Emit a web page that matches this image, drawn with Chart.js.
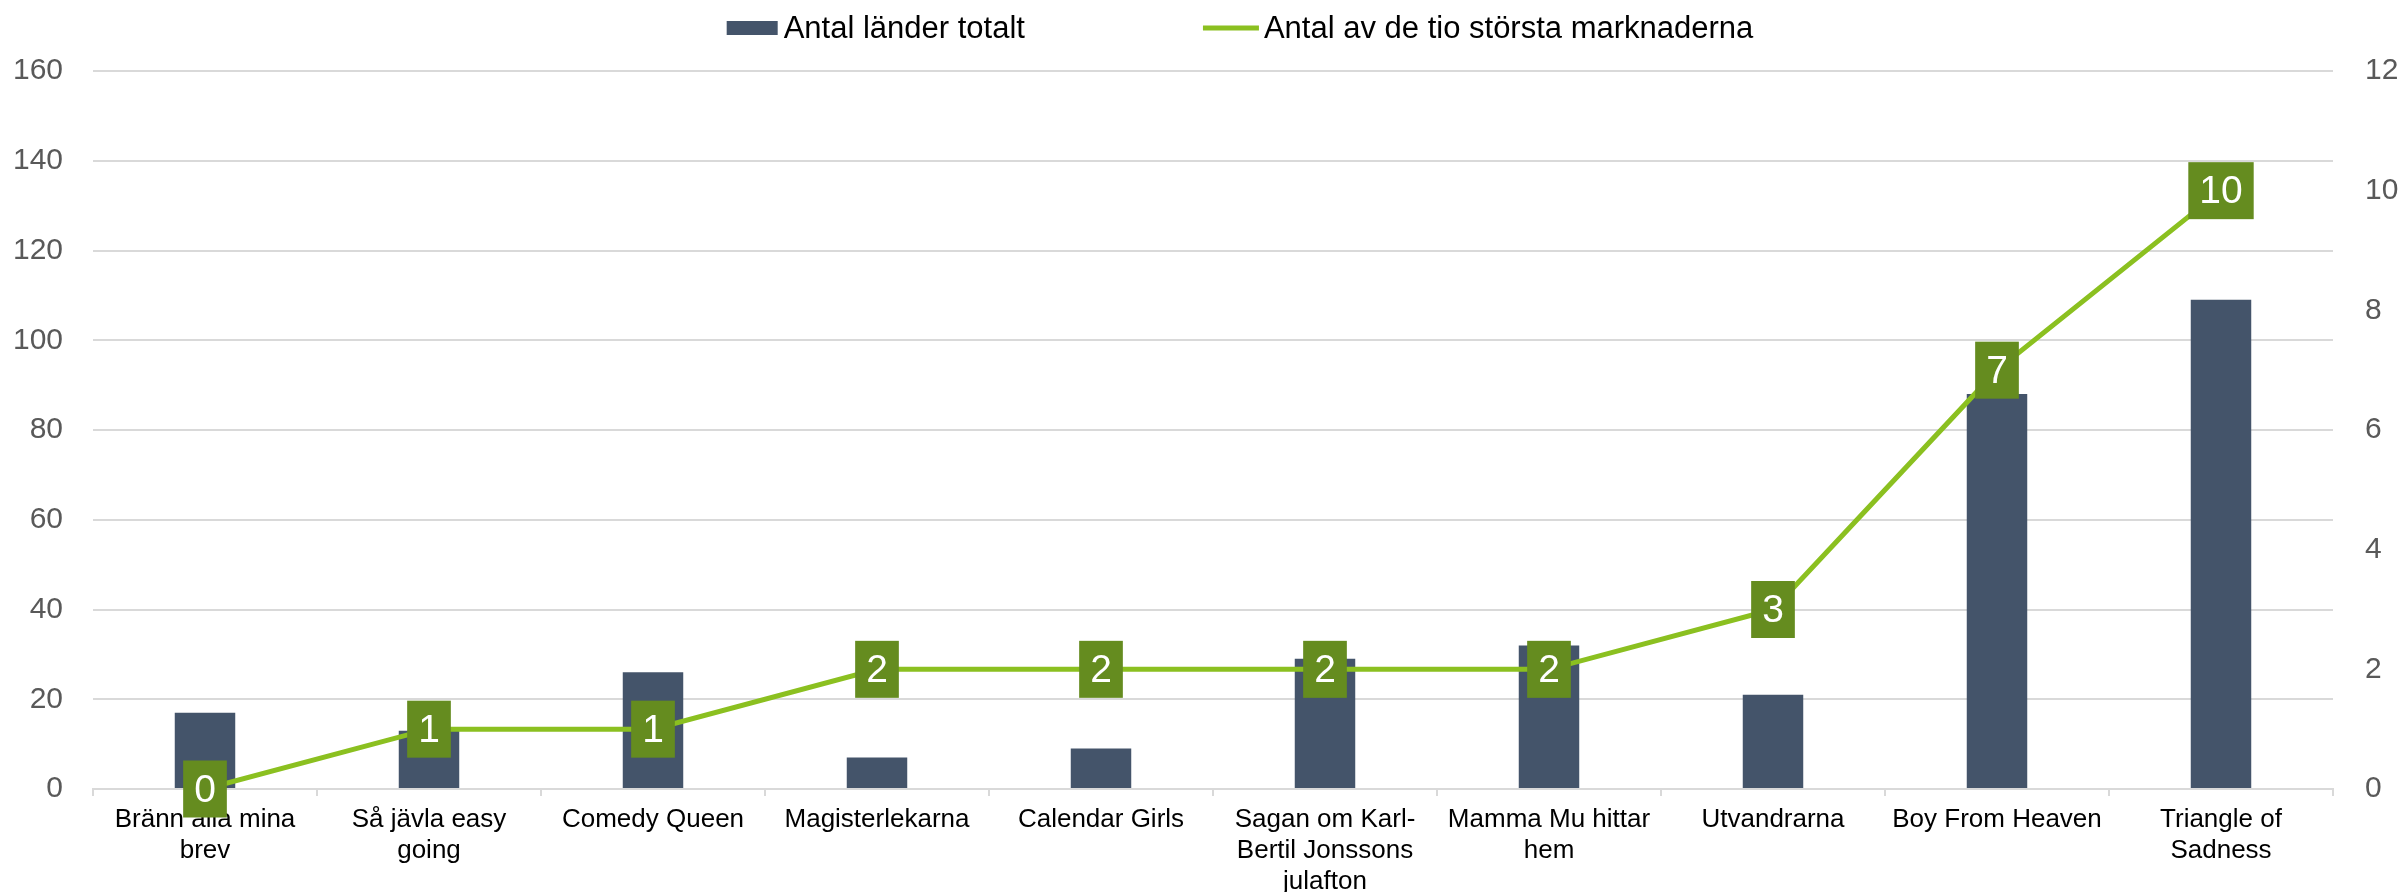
<!DOCTYPE html>
<html>
<head>
<meta charset="utf-8">
<script src="https://cdn.jsdelivr.net/npm/chart.js@4.4.1/dist/chart.umd.min.js"></script>
<style>
  html, body { margin: 0; padding: 0; background: #ffffff; }
  #wrap { width: 2400px; height: 892px; }
</style>
</head>
<body>
<div id="wrap"><canvas id="c" width="2400" height="892"></canvas></div>
<script>
const categories = [
  ["Bränn alla mina", "brev"],
  ["Så jävla easy", "going"],
  "Comedy Queen",
  "Magisterlekarna",
  "Calendar Girls",
  ["Sagan om Karl-", "Bertil Jonssons", "julafton"],
  ["Mamma Mu hittar", "hem"],
  "Utvandrarna",
  "Boy From Heaven",
  ["Triangle of", "Sadness"]
];
const totalCountries = [17, 13, 26, 7, 9, 29, 32, 21, 88, 109];
const topTenMarkets = [0, 1, 1, 2, 2, 2, 2, 3, 7, 10];
const seriesNames = ["Antal länder totalt", "Antal av de tio största marknaderna"];
const leftTicks = { min: 0, max: 160, step: 20 };
const rightTicks = { min: 0, max: 12, step: 2 };

const FONT = "'Liberation Sans', Arial, Helvetica, sans-serif";
const BAR_COLOR = '#44546A';
const LINE_COLOR = '#8BC020';
const LABEL_BG = '#658C1F';
const GRID = '#D9D9D9';

const dataLabels = {
  id: 'dataLabels',
  afterDatasetsDraw(chart) {
    const ctx = chart.ctx;
    chart.data.datasets.forEach((ds, i) => {
      if (ds.type !== 'line') return;
      const meta = chart.getDatasetMeta(i);
      ctx.save();
      ctx.font = '39px ' + FONT;
      ctx.textAlign = 'center';
      ctx.textBaseline = 'middle';
      meta.data.forEach((pt, j) => {
        const txt = String(ds.data[j]);
        const w = ctx.measureText(txt).width + 22;
        const h = 57;
        ctx.fillStyle = LABEL_BG;
        ctx.fillRect(pt.x - w / 2, pt.y - h / 2, w, h);
        ctx.fillStyle = '#ffffff';
        ctx.fillText(txt, pt.x, pt.y + 2);
      });
      ctx.restore();
    });
  }
};

const legendPlugin = {
  id: 'customLegend',
  afterDraw(chart) {
    const ctx = chart.ctx;
    ctx.save();
    ctx.font = '31px ' + FONT;
    ctx.textBaseline = 'middle';
    ctx.textAlign = 'left';
    const cy = 28;
    const ds = chart.data.datasets;
    const t1 = ctx.measureText(ds[0].label).width;
    const t2 = ctx.measureText(ds[1].label).width;
    const gap = 178;
    const total = 51 + 6 + t1 + gap + 56 + 5 + t2;
    let x = chart.width / 2 + 40 - total / 2;
    ctx.fillStyle = ds[0].backgroundColor;
    ctx.fillRect(x, cy - 7, 51, 14);
    x += 51 + 6;
    ctx.fillStyle = '#000000';
    ctx.fillText(ds[0].label, x, cy + 1);
    x += t1 + gap;
    ctx.strokeStyle = ds[1].borderColor;
    ctx.lineWidth = 5;
    ctx.beginPath();
    ctx.moveTo(x, cy);
    ctx.lineTo(x + 56, cy);
    ctx.stroke();
    x += 56 + 5;
    ctx.fillStyle = '#000000';
    ctx.fillText(ds[1].label, x, cy + 1);
    ctx.restore();
  }
};

new Chart(document.getElementById('c'), {
  data: {
    labels: categories,
    datasets: [
      {
        type: 'bar',
        label: seriesNames[0],
        data: totalCountries,
        backgroundColor: BAR_COLOR,
        borderWidth: 0,
        barPercentage: 0.27,
        categoryPercentage: 1.0,
        yAxisID: 'y',
        order: 2
      },
      {
        type: 'line',
        label: seriesNames[1],
        data: topTenMarkets,
        borderColor: LINE_COLOR,
        backgroundColor: LINE_COLOR,
        borderWidth: 5,
        pointRadius: 0,
        tension: 0,
        yAxisID: 'y2',
        order: 1
      }
    ]
  },
  options: {
    responsive: false,
    animation: false,
    devicePixelRatio: 1,
    layout: { padding: { left: 0, right: 0, top: 71, bottom: 0 } },
    plugins: {
      legend: { display: false },
      tooltip: { enabled: false }
    },
    scales: {
      x: {
        type: 'category',
        offset: true,
        grid: {
          display: true,
          offset: true,
          drawOnChartArea: false,
          drawTicks: true,
          tickLength: 7,
          color: GRID,
          lineWidth: 2
        },
        border: { display: true, color: GRID, width: 2 },
        ticks: {
          color: '#000000',
          font: { family: FONT, size: 26, lineHeight: 1.2 },
          padding: 8,
          maxRotation: 0,
          minRotation: 0,
          autoSkip: false
        },
        afterFit(scale) { scale.height = 103; }
      },
      y: {
        position: 'left',
        min: leftTicks.min,
        max: leftTicks.max,
        ticks: {
          stepSize: leftTicks.step,
          color: '#595959',
          font: { family: FONT, size: 30 },
          padding: 30
        },
        grid: { color: GRID, lineWidth: 2, drawTicks: false },
        border: { display: false },
        afterFit(scale) { scale.width = 93; }
      },
      y2: {
        position: 'right',
        min: rightTicks.min,
        max: rightTicks.max,
        ticks: {
          stepSize: rightTicks.step,
          color: '#595959',
          font: { family: FONT, size: 30 },
          padding: 32
        },
        grid: { display: false, drawTicks: false },
        border: { display: false },
        afterFit(scale) { scale.width = 67; }
      }
    }
  },
  plugins: [dataLabels, legendPlugin]
});
</script>
</body>
</html>
